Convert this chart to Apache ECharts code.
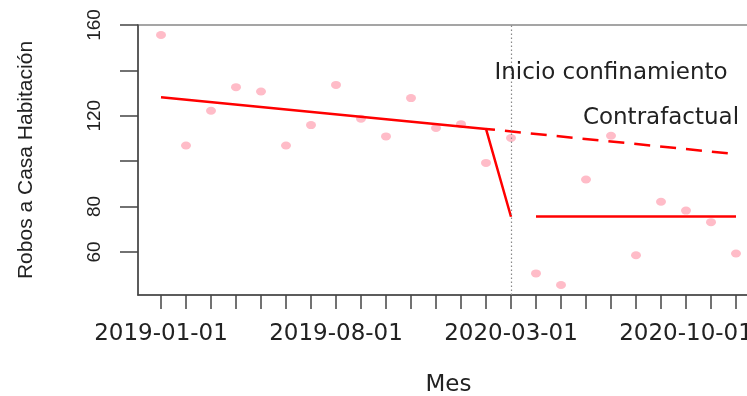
<!DOCTYPE html>
<html>
<head>
<meta charset="utf-8">
<script src="https://cdn.jsdelivr.net/npm/echarts@6/dist/echarts.min.js"></script>
<style>html,body{margin:0;padding:0;background:#fff;}#c{width:747px;height:396px;}</style>
</head>
<body>
<div id="c"></div>
<script>
const months = ['2019-01-01','2019-02-01','2019-03-01','2019-04-01','2019-05-01','2019-06-01','2019-07-01','2019-08-01','2019-09-01','2019-10-01','2019-11-01','2019-12-01',
  '2020-01-01','2020-02-01','2020-03-01','2020-04-01','2020-05-01','2020-06-01','2020-07-01','2020-08-01','2020-09-01','2020-10-01','2020-11-01','2020-12-01'];
const robos = [155.6,106.9,122.2,132.6,130.7,106.9,115.9,133.6,118.7,110.9,127.8,114.6,116.3,99.2,110.2,50.5,45.4,91.9,111.2,58.5,82.1,78.2,73.1,59.3];
const ajustePre = [['2019-01-01',128.2],['2020-02-01',114.2],['2020-03-01',75.5]];
const ajustePost = [['2020-04-01',75.6],['2020-12-01',75.6]];
const contrafactual = [['2020-02-01',114.2],['2020-12-01',103.1]];
const intervencion = '2020-03-01';
const anotaciones = [['Inicio confinamiento','2020-07-01',139],['Contrafactual','2020-09-01',119]];
const yTicks = [60,80,100,120,140,160];
const yLabels = [60,80,120,160];
const xLabelMonths = ['2019-01-01','2019-08-01','2020-03-01','2020-10-01'];

const idx = m => months.indexOf(m);
const toXY = arr => arr.map(p => [idx(p[0]), p[1]]);

const chart = echarts.init(document.getElementById('c'), null, {renderer:'canvas'});
chart.setOption({
  animation: false,
  backgroundColor: '#fff',
  grid: {left: 138, top: 25, bottom: 101, right: -12, show: true, borderColor: '#888', borderWidth: 1.5, outerBoundsMode: 'none'},
  xAxis: {
    type: 'value', min: -0.92, max: 23.92,
    splitLine: {show: false},
    axisLine: {show: true, onZero: false, lineStyle: {color: '#444', width: 1.5}},
    axisTick: {show: true, length: 14, customValues: months.map((m,i)=>i), lineStyle: {color: '#444', width: 1.5}},
    axisLabel: {customValues: xLabelMonths.map(idx), formatter: v => months[Math.round(v)], margin: 28,
      fontFamily: 'DejaVu Sans', fontSize: 23, color: '#222'},
    name: 'Mes', nameLocation: 'middle', nameGap: 79,
    nameTextStyle: {fontFamily: 'DejaVu Sans', fontSize: 23, color: '#222'}
  },
  yAxis: {
    type: 'value', min: 41, max: 160,
    splitLine: {show: false},
    axisLine: {show: true, onZero: false, lineStyle: {color: '#444', width: 1.5}},
    axisTick: {show: true, length: 18, customValues: yTicks, lineStyle: {color: '#444', width: 1.5}},
    axisLabel: {customValues: yLabels, rotate: 90, margin: 34,
      fontFamily: 'Liberation Sans', fontSize: 19, color: '#222'},
    name: 'Robos a Casa Habitación', nameLocation: 'middle', nameGap: 101, nameRotate: 90,
    nameTextStyle: {fontFamily: 'Liberation Sans', fontSize: 21, color: '#222'}
  },
  series: [
    {type: 'scatter', data: robos.map((v,i)=>[i,v]), symbol: 'circle', symbolSize: [10,8],
      itemStyle: {color: '#FFBCC8', opacity: 1}, z: 2,
      markLine: {silent: true, symbol: 'none', label: {show: false},
        lineStyle: {color: '#888', width: 1.2, type: [1.5,2.5]},
        data: [{xAxis: idx(intervencion)}]},
      markPoint: {symbol: 'circle', symbolSize: 1, itemStyle: {color: 'rgba(0,0,0,0)'},
        label: {show: true, position: 'inside', fontFamily: 'DejaVu Sans', fontSize: 23, color: '#222',
          formatter: p => p.name},
        data: anotaciones.map(a => ({name: a[0], coord: [idx(a[1]), a[2]]}))}
    },
    {type: 'line', data: toXY(ajustePre), symbol: 'none', lineStyle: {color: '#FF0000', width: 2.5}, z: 3},
    {type: 'line', data: toXY(ajustePost), symbol: 'none', lineStyle: {color: '#FF0000', width: 2.5}, z: 3},
    {type: 'line', data: toXY(contrafactual), symbol: 'none',
      lineStyle: {color: '#FF0000', width: 2.5, type: [16,10], dashOffset: 7}, z: 3}
  ]
});
</script>
</body>
</html>
